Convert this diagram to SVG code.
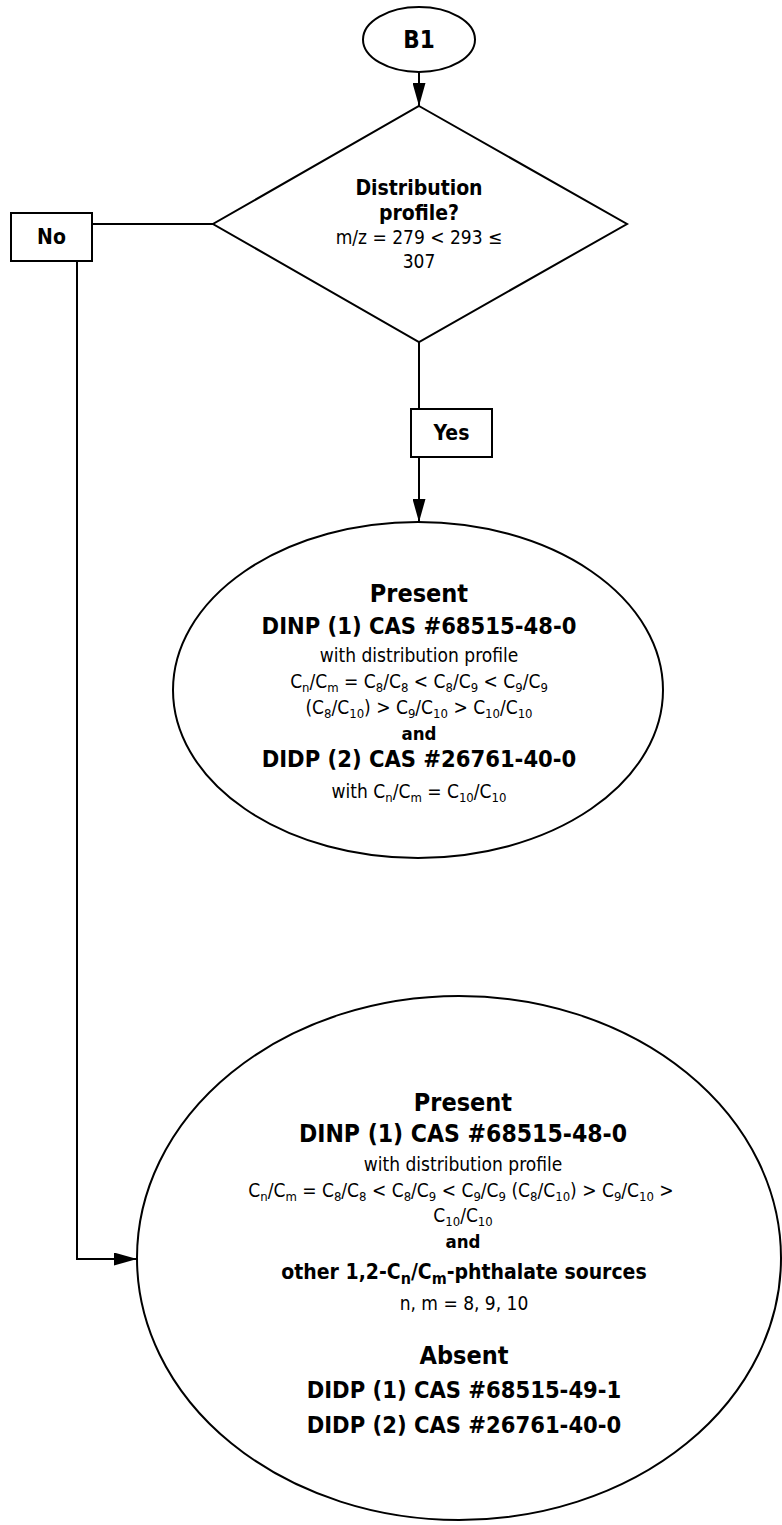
<svg xmlns="http://www.w3.org/2000/svg" width="782" height="1525" viewBox="0 0 782 1525">
  <defs>
    <style>
      text { font-family: "DejaVu Sans Condensed", "DejaVu Sans", sans-serif; font-stretch: condensed; fill: #000; text-anchor: middle; }
      .b { font-weight: bold; }
      .r { font-size: 19px; }
      .s { font-size: 13px; baseline-shift: -4px; }
      .sb { font-size: 16px; baseline-shift: -5px; }
      .shape { fill: #fff; stroke: #000; stroke-width: 2; }
      .conn { fill: none; stroke: #000; stroke-width: 2; }
    </style>
    <marker id="arrow" markerWidth="23" markerHeight="13" refX="23" refY="6.5" orient="auto" markerUnits="userSpaceOnUse">
      <path d="M0,0 L23,6.5 L0,13 Z" fill="#000"/>
    </marker>
  </defs>
  <rect width="782" height="1525" fill="#fff"/>

  <g id="connectors">
    <line class="conn" x1="419" y1="72" x2="419" y2="106" marker-end="url(#arrow)"/>
    <line class="conn" x1="213" y1="224" x2="92" y2="224"/>
    <polyline class="conn" points="77,261 77,1259 137,1259" marker-end="url(#arrow)"/>
    <line class="conn" x1="419" y1="342" x2="419" y2="409"/>
    <line class="conn" x1="419" y1="457" x2="419" y2="522" marker-end="url(#arrow)"/>
  </g>

  <g id="start-b1">
    <ellipse class="shape" cx="419" cy="39.5" rx="56" ry="32.5"/>
    <text class="b" x="419" y="48" font-size="24">B1</text>
  </g>

  <g id="decision">
    <polygon class="shape" points="419,106 627,224 419,342 213,224"/>
    <text class="b" x="419" y="195" font-size="21">Distribution</text>
    <text class="b" x="419" y="220" font-size="21">profile?</text>
    <text class="r" x="419" y="244">m/z = 279 &lt; 293 ≤</text>
    <text class="r" x="419" y="268">307</text>
  </g>

  <g id="label-no">
    <rect class="shape" x="11" y="213" width="81" height="48"/>
    <text class="b" x="51.5" y="244" font-size="21">No</text>
  </g>

  <g id="label-yes">
    <rect class="shape" x="411" y="409" width="81" height="48"/>
    <text class="b" x="451.5" y="440" font-size="21">Yes</text>
  </g>

  <g id="result-yes">
    <ellipse class="shape" cx="418" cy="690" rx="245" ry="168"/>
    <text class="b" x="419" y="602" font-size="25">Present</text>
    <text class="b" x="419" y="634" font-size="23.5">DINP (1) CAS #68515-48-0</text>
    <text class="r" x="419" y="662">with distribution profile</text>
    <text class="r" x="419" y="688">C<tspan class="s">n</tspan>/C<tspan class="s">m</tspan> = C<tspan class="s">8</tspan>/C<tspan class="s">8</tspan> &lt; C<tspan class="s">8</tspan>/C<tspan class="s">9</tspan> &lt; C<tspan class="s">9</tspan>/C<tspan class="s">9</tspan></text>
    <text class="r" x="419" y="714">(C<tspan class="s">8</tspan>/C<tspan class="s">10</tspan>) &gt; C<tspan class="s">9</tspan>/C<tspan class="s">10</tspan> &gt; C<tspan class="s">10</tspan>/C<tspan class="s">10</tspan></text>
    <text class="b" x="419" y="740" font-size="18.5">and</text>
    <text class="b" x="419" y="767" font-size="23.5">DIDP (2) CAS #26761-40-0</text>
    <text class="r" x="419" y="798">with C<tspan class="s">n</tspan>/C<tspan class="s">m</tspan> = C<tspan class="s">10</tspan>/C<tspan class="s">10</tspan></text>
  </g>

  <g id="result-no">
    <ellipse class="shape" cx="459" cy="1258" rx="322" ry="262"/>
    <text class="b" x="463" y="1111" font-size="25">Present</text>
    <text class="b" x="463" y="1142" font-size="24.5">DINP (1) CAS #68515-48-0</text>
    <text class="r" x="463" y="1171">with distribution profile</text>
    <text class="r" x="461" y="1197">C<tspan class="s">n</tspan>/C<tspan class="s">m</tspan> = C<tspan class="s">8</tspan>/C<tspan class="s">8</tspan> &lt; C<tspan class="s">8</tspan>/C<tspan class="s">9</tspan> &lt; C<tspan class="s">9</tspan>/C<tspan class="s">9</tspan> (C<tspan class="s">8</tspan>/C<tspan class="s">10</tspan>) &gt; C<tspan class="s">9</tspan>/C<tspan class="s">10</tspan> &gt;</text>
    <text class="r" x="463" y="1222">C<tspan class="s">10</tspan>/C<tspan class="s">10</tspan></text>
    <text class="b" x="463" y="1248" font-size="18.5">and</text>
    <text class="b" x="464" y="1279" font-size="21">other 1,2-C<tspan class="sb">n</tspan>/C<tspan class="sb">m</tspan>-phthalate sources</text>
    <text class="r" x="464" y="1310">n, m = 8, 9, 10</text>
    <text class="b" x="464" y="1364" font-size="25">Absent</text>
    <text class="b" x="464" y="1398" font-size="23.5">DIDP (1) CAS #68515-49-1</text>
    <text class="b" x="464" y="1433" font-size="23.5">DIDP (2) CAS #26761-40-0</text>
  </g>
</svg>
